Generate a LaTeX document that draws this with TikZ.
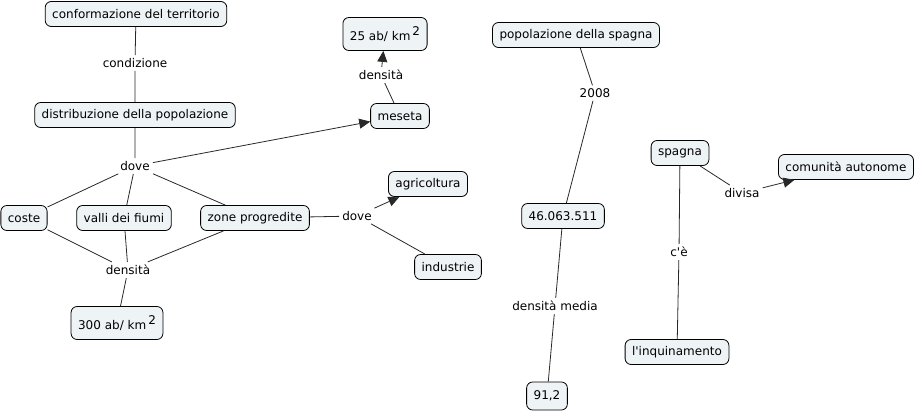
\documentclass[tikz,border=0pt]{standalone}
\usepackage{fontspec}
\setmainfont{DejaVu Sans}
\usetikzlibrary{arrows.meta}

\definecolor{boxfill}{RGB}{238,243,246}
\definecolor{lineclr}{RGB}{40,40,40}

\begin{document}
\begin{tikzpicture}[x=1pt,y=-1pt,>={Triangle[length=11pt,width=10pt]},
  concept/.style={draw=black,fill=boxfill,rounded corners=6pt,line width=0.8pt,
    inner xsep=7pt,minimum height=25pt,font=\fontsize{12}{14}\selectfont},
  link/.style={inner sep=3pt,font=\fontsize{12}{14}\selectfont},
  conn/.style={draw=lineclr,line width=0.8pt}]
  \useasboundingbox (0,0) rectangle (917,411);

  % left map
  \node[concept] (terr) at (136,14) {conformazione del territorio};
  \node[link] (cond) at (135,63) {condizione};
  \node[concept] (distr) at (135,115) {distribuzione della popolazione};
  \node[link] (dove) at (135,166) {dove};
  \node[concept] (coste) at (24,218) {coste};
  \node[concept] (valli) at (124,218) {valli dei fiumi};
  \node[concept] (zone) at (255,218) {zone progredite};
  \node[link] (dens) at (128,270) {densità};
  \node[concept,minimum height=33pt] (d300) at (117,323) {300 ab/ km\,\raisebox{.45em}{2}};
  \node[concept] (meseta) at (400,116) {meseta};
  \node[link] (densm) at (381,75) {densità};
  \node[concept,minimum height=33pt] (d25) at (385,34) {25 ab/ km\,\raisebox{.45em}{2}};
  \node[link] (dove2) at (357,216) {dove};
  \node[concept] (agri) at (428,184) {agricoltura};
  \node[concept] (indu) at (448,267) {industrie};

  \draw[conn] (terr) -- (cond) -- (distr) -- (dove);
  \draw[conn,->] (dove) -- (meseta);
  \draw[conn] (dove) -- (coste);
  \draw[conn] (dove) -- (valli);
  \draw[conn] (dove) -- (zone);
  \draw[conn] (coste) -- (dens);
  \draw[conn] (valli) -- (dens);
  \draw[conn] (zone) -- (dens);
  \draw[conn] (dens) -- (d300);
  \draw[conn] (meseta) -- (densm);
  \draw[conn,->] (densm) -- (d25);
  \draw[conn] (zone) -- (dove2);
  \draw[conn,->] (dove2) -- (agri);
  \draw[conn] (dove2) -- (indu);

  % middle map
  \node[concept] (pop) at (576,35) {popolazione della spagna};
  \node[link] (anno) at (595,93) {2008};
  \node[concept] (num) at (563,216) {46.063.511};
  \node[link] (media) at (555,306) {densità media};
  \node[concept,minimum height=28pt] (val) at (547,396) {91,2};

  \draw[conn] (pop) -- (anno) -- (num) -- (media) -- (val);

  % right map
  \node[concept] (spa) at (680,153) {spagna};
  \node[link] (div) at (742,193) {divisa};
  \node[concept] (com) at (846,167) {comunità autonome};
  \node[link] (ce) at (679,252) {c\textquotesingle è};
  \node[concept] (inq) at (677,352) {l\textquotesingle inquinamento};

  \draw[conn] (spa) -- (div);
  \draw[conn,->] (div) -- (com);
  \draw[conn] (spa) -- (ce) -- (inq);
\end{tikzpicture}
\end{document}
